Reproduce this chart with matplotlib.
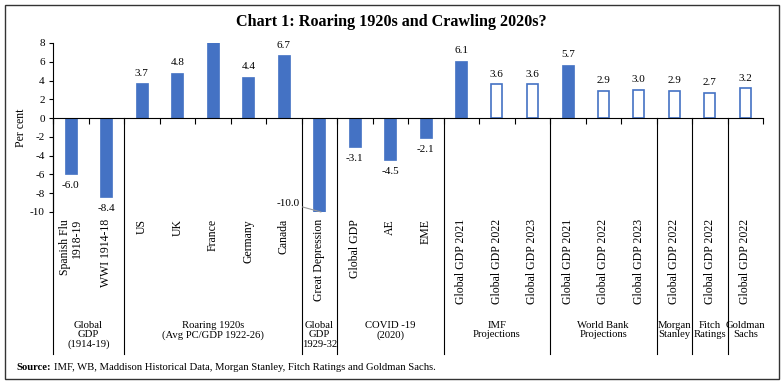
import matplotlib
matplotlib.use("Agg")
import matplotlib.pyplot as plt
from matplotlib.patches import Rectangle
import numpy as np

# Data
categories = ['Spanish Flu\n1918-19', 'WWI 1914-18', 'US', 'UK', 'France', 'Germany',
              'Canada', 'Great Depression', 'Global GDP', 'AE', 'EME',
              'Global GDP 2021', 'Global GDP 2022', 'Global GDP 2023',
              'Global GDP 2021', 'Global GDP 2022', 'Global GDP 2023',
              'Global GDP 2022', 'Global GDP 2022', 'Global GDP 2022']
values = [-6.0, -8.4, 3.7, 4.8, 8.9, 4.4, 6.7, -10.0, -3.1, -4.5, -2.1,
          6.1, 3.6, 3.6, 5.7, 2.9, 3.0, 2.9, 2.7, 3.2]
# True = actual outcome (filled), False = projection (hollow)
actual = [True] * 11 + [True, False, False, True, False, False, False, False, False]

group_labels = ['Global\nGDP\n(1914-19)', 'Roaring 1920s\n(Avg PC/GDP 1922-26)',
                'Global\nGDP\n1929-32', 'COVID -19\n(2020)', 'IMF\nProjections',
                'World Bank\nProjections', 'Morgan\nStanley', 'Fitch\nRatings',
                'Goldman\nSachs']
group_sizes = [2, 5, 1, 3, 3, 3, 1, 1, 1]

blue = '#4472C4'
plt.rcParams['font.family'] = 'Liberation Serif'
plt.rcParams['axes.unicode_minus'] = False

fig = plt.figure(figsize=(7.84, 3.84), dpi=100)
ax = fig.add_axes([53 / 784, 1 - 212 / 384, 710 / 784, 169 / 384])

x = np.arange(len(values))
ymin, ymax = -10, 8

for xi, v, filled in zip(x, values, actual):
    if filled:
        ax.bar(xi, v, width=0.34, color=blue, edgecolor=blue, linewidth=0.5)
    else:
        ax.bar(xi, v, width=0.32, facecolor='white', edgecolor=blue, linewidth=1.2)

# value labels
for xi, v in zip(x, values):
    if v > ymax:
        continue
    if v <= ymin:
        ax.annotate(f'{v:.1f}', xy=(xi + 0.05, v), xytext=(xi - 0.55, v + 0.95),
                    ha='right', va='center', fontsize=8,
                    arrowprops=dict(arrowstyle='-', color='#999999', lw=0.8,
                                    shrinkA=0, shrinkB=0))
    elif v >= 0:
        ax.annotate(f'{v:.1f}', (xi, v), xytext=(0, 4), textcoords='offset points',
                    ha='center', va='bottom', fontsize=8)
    else:
        ax.annotate(f'{v:.1f}', (xi, v), xytext=(0, -5), textcoords='offset points',
                    ha='center', va='top', fontsize=8)

ax.set_xlim(-0.5, len(values) - 0.5)
ax.set_ylim(ymin, ymax)
ax.set_yticks(np.arange(ymin, ymax + 1, 2))
ax.tick_params(axis='y', direction='out', length=3, width=0.8, labelsize=8, pad=3)

ax.spines['top'].set_visible(False)
ax.spines['right'].set_visible(False)
ax.spines['bottom'].set_position(('data', 0))
ax.spines['left'].set_linewidth(0.8)
ax.spines['bottom'].set_linewidth(0.8)

ax.set_xticks(x)
ax.set_xticklabels([])
ax.set_xticks(np.arange(len(values) + 1) - 0.5, minor=True)
ax.tick_params(axis='x', which='major', length=0)
ax.tick_params(axis='x', which='minor', direction='out', length=4, width=0.8)

ax.set_ylabel('Per cent', fontsize=8.5, labelpad=2)

# category labels
for xi, lab in zip(x, categories):
    ax.text(xi, -10.75, lab, rotation=90, ha='center', va='top', fontsize=8.5,
            multialignment='right', linespacing=1.0, clip_on=False)

# group dividers and labels
start = 0
for lab, n in zip(group_labels, group_sizes):
    b = start - 0.5
    ax.plot([b, b], [0, -25.1], color='black', lw=0.8, clip_on=False)
    ax.text(start + n / 2 - 0.5, -21.6, lab, ha='center', va='top', fontsize=7.7,
            linespacing=1.05, clip_on=False)
    start += n

fig.text(0.499, 1 - 22 / 384, 'Chart 1: Roaring 1920s and Crawling 2020s?',
         ha='center', va='center', fontsize=11.6, fontweight='bold')

src = fig.text(16 / 784, 1 - 367 / 384, 'Source:', ha='left', va='center',
               fontsize=7.7, fontweight='bold')
fig.canvas.draw()
bb = src.get_window_extent().transformed(fig.transFigure.inverted())
fig.text(bb.x1 + 3 / 784, 1 - 367 / 384,
         'IMF, WB, Maddison Historical Data, Morgan Stanley, Fitch Ratings and Goldman Sachs.',
         ha='left', va='center', fontsize=7.7)

fig.patches.append(Rectangle((5 / 784, 5 / 384), 774 / 784, 374 / 384,
                             transform=fig.transFigure, fill=False,
                             edgecolor='#333333', linewidth=1))

fig.savefig('out.png', dpi=100)
